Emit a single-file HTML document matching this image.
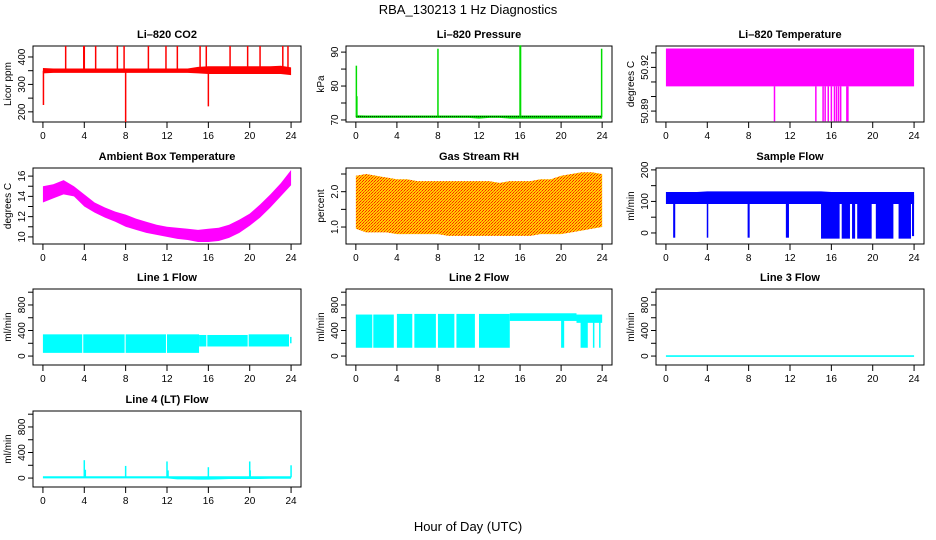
<!DOCTYPE html>
<html><head><meta charset="utf-8"><style>
body{margin:0;background:#fff}
svg{display:block;font-family:"Liberation Sans",sans-serif}
</style></head><body>
<svg id="c" width="936" height="540" viewBox="0 0 936 540">
<defs><pattern id="rhpat" width="3" height="3" patternUnits="userSpaceOnUse"><rect width="3" height="3" fill="#ffcc00"/><rect width="1" height="1" fill="#ff2000"/><rect x="2" y="1" width="1" height="1" fill="#ff2000"/><rect x="1" y="2" width="1" height="1" fill="#ff6000"/></pattern></defs>
<text x="468" y="14" text-anchor="middle" font-size="13">RBA_130213  1 Hz Diagnostics</text>
<text x="468" y="531" text-anchor="middle" font-size="13">Hour of Day (UTC)</text>
</svg>
<script>
// ---------- data ----------
const hours = [0,1,2,3,4,5,6,7,8,9,10,11,12,13,14,15,16,17,18,19,20,21,22,23,24];
const xTicks = [0,4,8,12,16,20,24];
// CO2
const co2Low  = [340,342,342,342,342,342,342,342,342,342,342,342,342,342,342,340,338,338,338,338,338,338,338,338,334];
const co2High = [360,358,358,358,358,358,358,358,358,358,358,358,358,358,358,364,366,366,366,366,366,366,366,368,362];
const co2SpikeHours  = [0.05,2.2,3.95,4.0,5.1,7.2,7.85,8.0,10.2,11.9,13.0,15.2,15.8,16.0,18.1,19.8,21.0,23.2,23.7];
const co2SpikeValues = [225,440,440,440,440,440,440,163,440,440,440,440,440,220,440,440,440,440,440];
// Pressure
const presLow  = [70.6,70.6,70.6,70.6,70.6,70.6,70.6,70.6,70.6,70.6,70.6,70.6,70.4,70.6,70.6,70.4,70.4,70.4,70.4,70.4,70.4,70.4,70.4,70.4,70.4];
const presHigh = [71.4,71.3,71.3,71.3,71.3,71.3,71.3,71.3,71.3,71.3,71.3,71.3,71.3,71.3,71.3,71.3,71.3,71.3,71.3,71.3,71.3,71.3,71.3,71.3,71.3];
const presSpikeHours  = [0.05,0.1,8.0,16.0,16.05,23.95];
const presSpikeValues = [86,77,91,92,92,91];
// Li-820 temperature
const tempLow  = [50.907,50.907,50.907,50.907,50.907,50.907,50.907,50.907,50.907,50.907,50.907,50.907,50.907,50.907,50.907,50.907,50.907,50.907,50.907,50.907,50.907,50.907,50.907,50.907,50.907];
const tempHigh = [50.933,50.933,50.933,50.933,50.933,50.933,50.933,50.933,50.933,50.933,50.933,50.933,50.933,50.933,50.933,50.933,50.933,50.933,50.933,50.933,50.933,50.933,50.933,50.933,50.933];
const tempDropHours  = [10.5,14.5,15.2,15.4,15.7,16.0,16.3,16.5,16.7,16.9,17.5,17.6];
const tempDropValues = [50.883,50.883,50.883,50.883,50.883,50.883,50.883,50.883,50.883,50.883,50.883,50.883];
// Ambient
const ambLow  = [13.4,13.8,14.2,14.0,13.0,12.4,11.9,11.5,11.0,10.7,10.4,10.2,10.0,9.8,9.7,9.5,9.5,9.6,9.9,10.4,11.1,11.9,12.9,14.0,15.1];
const ambHigh = [15.0,15.2,15.6,15.0,14.2,13.4,12.9,12.5,12.2,11.8,11.5,11.2,11.0,10.9,10.8,10.7,10.8,10.9,11.2,11.7,12.3,13.2,14.2,15.3,16.6];
// RH
const rhLow  = [0.95,0.85,0.85,0.85,0.8,0.8,0.8,0.8,0.8,0.75,0.75,0.75,0.75,0.75,0.75,0.75,0.75,0.75,0.8,0.8,0.8,0.85,0.9,0.95,1.0];
const rhHigh = [2.45,2.5,2.45,2.4,2.35,2.35,2.3,2.3,2.3,2.3,2.3,2.3,2.3,2.3,2.25,2.3,2.3,2.3,2.35,2.35,2.45,2.5,2.55,2.55,2.5];
// Sample flow
const sfLow  = [92,92,92,92,92,92,92,92,92,92,92,92,92,92,92,92,92,92,92,92,92,92,92,92,92];
const sfHigh = [130,130,130,130,132,132,132,132,132,132,132,132,132,132,132,132,130,130,130,130,130,130,130,130,130];
const sfDropStart = [0.7,3.95,7.9,11.6,15.0,17.0,18.0,18.5,20.3,22.5,23.8];
const sfDropEnd   = [0.9,4.05,8.1,11.9,16.8,17.8,18.3,19.9,22.0,23.7,24.0];
const sfDropValue = [-15,-15,-15,-15,-18,-18,-18,-18,-18,-18,-10];
// Line 1
const l1Start = [0,3.9,8.0,12.0,15.1,15.9,19.9,23.9];
const l1End   = [3.8,7.9,11.9,15.1,15.8,19.8,23.8,24.0];
const l1Low   = [50,50,50,50,150,150,150,200];
const l1High  = [340,340,340,340,330,330,340,300];
// Line 2
const l2Start = [0,1.7,4.0,5.7,8.0,9.8,12.0,15.0,21.5,20.0,21.9,23.1,23.7];
const l2End   = [1.6,3.7,5.5,7.8,9.6,11.6,15.0,21.5,24.0,20.3,22.6,23.2,23.8];
const l2Low   = [130,130,130,130,130,130,130,550,520,130,130,130,130];
const l2High  = [650,650,660,660,660,660,660,670,650,560,560,560,560];
// Line 3
const l3Low  = [-12,-12,-12,-12,-12,-12,-12,-12,-12,-12,-12,-12,-12,-12,-12,-12,-12,-12,-12,-12,-12,-12,-12,-12,-12];
const l3High = [12,12,12,12,12,12,12,12,12,12,12,12,12,12,12,12,12,12,12,12,12,12,12,12,12];
// Line 4
const l4Low  = [-5,-5,-5,-5,-5,-5,-5,-5,-5,-5,-5,-5,-5,-20,-20,-25,-25,-20,-15,-15,-15,-15,-10,-10,-10];
const l4High = [28,28,28,28,28,28,28,28,28,28,28,28,28,28,28,28,28,28,28,28,28,28,28,28,28];
const l4SpikeHours  = [4.0,4.1,8.0,12.0,12.1,16.0,20.0,20.05,24.0];
const l4SpikeValues = [280,130,190,260,120,170,260,120,200];

// ---------- layout ----------
const svg = document.getElementById('c');
const NS = 'http://www.w3.org/2000/svg';
const colL = [33,346,656], colR = [301,612,924];
const rowT = [46,168,289,411], BH = 76;
function mk(tag, attrs, name){
  const el = document.createElementNS(NS, tag);
  for (const k in attrs) el.setAttribute(k, attrs[k]);
  
  
  svg.appendChild(el);
  return el;
}
function panel(col,row,title,ylab,ymin,ymax,yticks,ylabels){
  const L=colL[col], R=colR[col], T=rowT[row], B=T+BH;
  const W=R-L, pad=W*0.96/25.92;
  const sx = h => L+pad+h*(W-2*pad)/24;
  const sy = v => B-(v-ymin)/(ymax-ymin)*BH;
  const p = {L,R,T,B,sx,sy,slug:title.toLowerCase().replace(/[^a-z0-9]+/g,'-').replace(/-$/,'')};
  const t = mk('text',{x:(L+R)/2,y:T-8,'text-anchor':'middle','font-size':11,'font-weight':'bold'},p.slug+'-title');
  t.textContent = title;
  mk('rect',{x:L,y:T,width:W,height:BH,fill:'none',stroke:'#000','stroke-width':1},p.slug+'-plot-frame');
  xTicks.forEach(h=>{
    mk('line',{x1:sx(h),x2:sx(h),y1:B,y2:B+6,stroke:'#000'},p.slug+'-x-tick');
    const tx = mk('text',{x:sx(h),y:B+17,'text-anchor':'middle','font-size':10},p.slug+'-x-tick-label');
    tx.textContent = h;
  });
  yticks.forEach(v=>{
    mk('line',{x1:L,x2:L-5,y1:sy(v),y2:sy(v),stroke:'#000'},p.slug+'-y-tick');
  });
  ylabels.forEach(v=>{
    const ty = mk('text',{x:0,y:0,'text-anchor':'middle','font-size':10,transform:`translate(${L-8},${sy(v)}) rotate(-90)`},p.slug+'-y-tick-label');
    ty.textContent = v;
  });
  const yl = mk('text',{x:0,y:0,'text-anchor':'middle','font-size':10,transform:`translate(${L-22},${(T+B)/2}) rotate(-90)`},p.slug+'-y-axis-title');
  yl.textContent = ylab;
  return p;
}
function band(p,lows,highs,fill){
  let pts=[];
  hours.forEach((h,i)=>pts.push(p.sx(h)+','+p.sy(highs[i])));
  for(let i=hours.length-1;i>=0;i--) pts.push(p.sx(hours[i])+','+p.sy(lows[i]));
  mk('polygon',{points:pts.join(' '),fill:fill,stroke:'none'},p.slug+'-series-band');
}
function spikes(p,hs,vs,base,color,w){
  hs.forEach((h,i)=>{
    mk('line',{x1:p.sx(h),x2:p.sx(h),y1:p.sy(base),y2:p.sy(vs[i]),stroke:color,'stroke-width':w},p.slug+'-spike');
  });
}
function segs(p,st,en,lo,hi,color){
  st.forEach((s,i)=>{
    const x1=p.sx(s), x2=Math.max(p.sx(en[i]),x1+1.5);
    mk('rect',{x:x1,y:p.sy(hi[i]),width:x2-x1,height:p.sy(lo[i])-p.sy(hi[i]),fill:color},p.slug+'-segment');
  });
}

// CO2
let p = panel(0,0,'Li\u2013820 CO2','Licor ppm',163,440,[200,250,300,350,400],[200,300,400]);
band(p,co2Low,co2High,'#ff0000');
spikes(p,co2SpikeHours,co2SpikeValues,350,'#ff0000',1.5);
// Pressure
p = panel(1,0,'Li\u2013820 Pressure','kPa',69.4,91.8,[70,75,80,85,90],[70,80,90]);
band(p,presLow,presHigh,'#00dd00');
mk('line',{x1:p.sx(0),x2:p.sx(24),y1:p.sy(71),y2:p.sy(71),stroke:'#000','stroke-dasharray':'1,1'},'pressure-dotted-line');
spikes(p,presSpikeHours,presSpikeValues,71,'#00dd00',1.5);
// Temperature
p = panel(2,0,'Li\u2013820 Temperature','degrees C',50.8825,50.9347,[50.89,50.90,50.91,50.92,50.93],['50.89','50.92']);
band(p,tempLow,tempHigh,'#ff00ff');
spikes(p,tempDropHours,tempDropValues,50.907,'#ff00ff',1.5);
// Ambient
p = panel(0,1,'Ambient Box Temperature','degrees C',9.3,16.8,[10,11,12,13,14,15,16],[10,12,14,16]);
band(p,ambLow,ambHigh,'#ff00ff');
// RH
p = panel(1,1,'Gas Stream RH','percent',0.52,2.67,[1.0,1.5,2.0,2.5],['1.0','2.0']);
band(p,rhLow,rhHigh,'url(#rhpat)');
// Sample flow
p = panel(2,1,'Sample Flow','ml/min',-35,206,[0,50,100,150,200],[0,100,200]);
band(p,sfLow,sfHigh,'#0000ff');
segs(p,sfDropStart,sfDropEnd,sfDropValue,sfHigh.slice(0,sfDropStart.length).map(()=>120),'#0000ff');
// Line 1
p = panel(0,2,'Line 1 Flow','ml/min',-140,1050,[0,200,400,600,800,1000],[0,400,800]);
segs(p,l1Start,l1End,l1Low,l1High,'#00ffff');
// Line 2
p = panel(1,2,'Line 2 Flow','ml/min',-140,1050,[0,200,400,600,800,1000],[0,400,800]);
segs(p,l2Start,l2End,l2Low,l2High,'#00ffff');
// Line 3
p = panel(2,2,'Line 3 Flow','ml/min',-140,1050,[0,200,400,600,800,1000],[0,400,800]);
band(p,l3Low,l3High,'#00ffff');
// Line 4
p = panel(0,3,'Line 4 (LT) Flow','ml/min',-140,1050,[0,200,400,600,800,1000],[0,400,800]);
band(p,l4Low,l4High,'#00ffff');
spikes(p,l4SpikeHours,l4SpikeValues,10,'#00ffff',1.5);
</script>
</body></html>
